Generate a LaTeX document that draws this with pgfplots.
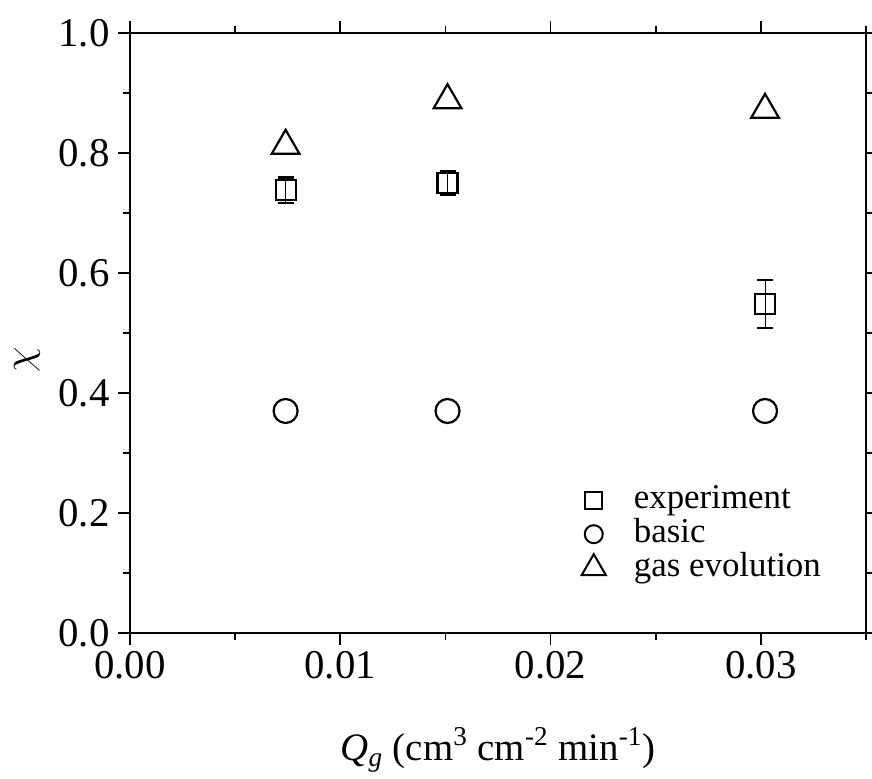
\documentclass[border=0pt]{standalone}
\usepackage{fontspec}
\setmainfont{Liberation Serif}
\usepackage{pgfplots}
\pgfplotsset{compat=1.18}
\begin{document}
\fontsize{20.5}{24}\selectfont
\begin{tikzpicture}
\begin{axis}[
  scale only axis,
  width=368bp, height=300bp,
  xmin=0, xmax=0.035, ymin=0, ymax=1.0,
  xtick={0,0.01,0.02,0.03},
  minor xtick={0.005,0.015,0.025,0.035},
  ytick={0,0.2,0.4,0.6,0.8,1.0},
  minor ytick={0.1,0.3,0.5,0.7,0.9},
  tick align=outside,
  major tick length=6bp, minor tick length=3.5bp,
  tick style={line width=0.9bp, black},
  axis line style={line width=1.1bp},
  /pgf/number format/assume math mode=true,
  xticklabel style={/pgf/number format/.cd, fixed, fixed zerofill, precision=2, /tikz/.cd, inner ysep=3bp},
  yticklabel style={/pgf/number format/.cd, fixed, fixed zerofill, precision=1, /tikz/.cd, inner xsep=4bp},
  scaled x ticks=false,
  ticklabel style={font=\fontsize{20.5}{24}\selectfont},
  xlabel={{\itshape Q}\textsubscript{\itshape g} (cm\textsuperscript{3} cm\textsuperscript{-2} min\textsuperscript{-1})},
  xlabel style={at={(axis description cs:0.5,0)}, anchor=base, yshift=-63.5bp, font=\fontsize{19.5}{24}\selectfont},
  ylabel={$\chi$},
  ylabel style={at={(axis description cs:0,0.455)}, anchor=center, yshift=51.5bp, font=\fontsize{22}{24}\selectfont},
  legend style={draw=none, fill=none, at={(0.605,0.252)}, anchor=north west,
    font=\fontsize{17.5}{17.5}\selectfont,
    nodes={inner ysep=0pt, text height=11bp, text depth=3bp},
    row sep=3bp},
  legend cell align=left,
  every axis plot/.append style={line width=1.1bp},
]
\addplot[only marks, mark=square, mark size=5bp, black, forget plot,
  error bars/.cd, y dir=both, y explicit,
  error mark options={rotate=90, mark size=4bp, line width=1.1bp}]
  coordinates {
  (0.0074,0.738) +- (0,0.021)
  (0.0151,0.750) +- (0,0.020)
  (0.0302,0.548) +- (0,0.040)
};
\addplot[only marks, mark=o, mark size=6bp, black, forget plot] coordinates {
  (0.0074,0.37) (0.0151,0.37) (0.0302,0.37)
};
\addplot[only marks, mark=triangle, mark size=8bp, black, forget plot] coordinates {
  (0.0074,0.812) (0.0151,0.888) (0.0302,0.872)
};
\addlegendimage{only marks, mark=square, mark size=4.2bp, black, line width=1bp}
\addlegendentry{\hspace{12bp}experiment}
\addlegendimage{only marks, mark=o, mark size=4.5bp, black, line width=1bp}
\addlegendentry{\hspace{12bp}basic}
\addlegendimage{only marks, mark=triangle, mark size=7bp, black, line width=1bp}
\addlegendentry{\hspace{12bp}gas evolution}
\end{axis}
\pgfresetboundingbox
\useasboundingbox ([xshift=-65bp,yshift=-73bp]current axis.south west) rectangle ([xshift=3bp,yshift=16.5bp]current axis.north east);
\end{tikzpicture}
\end{document}
